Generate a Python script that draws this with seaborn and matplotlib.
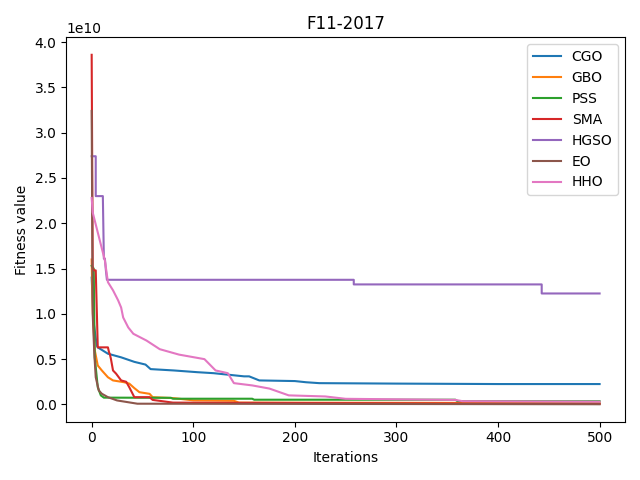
import numpy as np
import pandas as pd
import matplotlib
matplotlib.use("Agg")
import matplotlib.pyplot as plt
import seaborn as sns

# Convergence curves (values in units of 1e10)
cgo_it = [0, 2, 5, 6, 16, 29, 42, 53, 58, 81, 104, 120, 150, 155, 165, 200, 211, 224, 300, 400, 500]
cgo_val = [1.40, 0.90, 0.65, 0.63, 0.56, 0.52, 0.47, 0.44, 0.39, 0.375, 0.356, 0.345, 0.31, 0.31,
           0.265, 0.258, 0.245, 0.235, 0.23, 0.225, 0.225]

gbo_it = [0, 1, 3, 6, 10, 16, 21, 32, 37, 42, 47, 57, 60, 80, 100, 140, 145, 500]
gbo_val = [1.60, 1.05, 0.60, 0.43, 0.375, 0.30, 0.265, 0.245, 0.23, 0.18, 0.135, 0.117, 0.08,
           0.07, 0.045, 0.04, 0.02, 0.015]

pss_it = [0, 2, 3, 6, 9, 12, 78, 80, 158, 160, 358, 360, 500]
pss_val = [1.53, 1.50, 0.52, 0.19, 0.10, 0.075, 0.073, 0.063, 0.063, 0.052, 0.052, 0.037, 0.035]

sma_it = [0, 1, 2, 4, 6, 16, 17, 18, 19, 21, 24, 29, 34, 37, 42, 57, 60, 80, 500]
sma_val = [3.86, 1.51, 1.48, 1.48, 0.63, 0.63, 0.58, 0.55, 0.50, 0.375, 0.34, 0.265, 0.25, 0.19,
           0.08, 0.08, 0.05, 0.02, 0.005]

hgso_it = [0, 4, 4, 11, 12, 13, 14, 15, 258, 258, 443, 443, 500]
hgso_val = [2.74, 2.74, 2.30, 2.30, 1.61, 1.61, 1.48, 1.376, 1.376, 1.325, 1.325, 1.225, 1.225]

eo_it = [0, 1, 2.6, 4, 7, 10, 16, 25, 45, 500]
eo_val = [3.24, 1.00, 0.56, 0.30, 0.154, 0.118, 0.08, 0.044, 0.008, 0.002]

hho_it = [0, 1, 8, 13, 16, 21, 26, 29, 31, 36, 41, 54, 67, 86, 111, 122, 134, 140, 158, 175,
          194, 230, 250, 358, 365, 500]
hho_val = [2.28, 2.12, 1.81, 1.59, 1.35, 1.26, 1.15, 1.07, 0.96, 0.85, 0.78, 0.705, 0.61, 0.55,
           0.50, 0.375, 0.345, 0.235, 0.21, 0.175, 0.10, 0.088, 0.062, 0.05, 0.036, 0.03]

series = [
    ("CGO", cgo_it, cgo_val),
    ("GBO", gbo_it, gbo_val),
    ("PSS", pss_it, pss_val),
    ("SMA", sma_it, sma_val),
    ("HGSO", hgso_it, hgso_val),
    ("EO", eo_it, eo_val),
    ("HHO", hho_it, hho_val),
]

colors = sns.color_palette("tab10")

fig, ax = plt.subplots(figsize=(6.4, 4.8), dpi=100)
for i, (name, its, vals) in enumerate(series):
    df = pd.DataFrame({"Iterations": its, "Fitness": np.array(vals) * 1e10})
    sns.lineplot(data=df, x="Iterations", y="Fitness", ax=ax, color=colors[i],
                 label=name, estimator=None, sort=False, linewidth=1.5)

ax.set_title("F11-2017")
ax.set_xlabel("Iterations")
ax.set_ylabel("Fitness value")
ax.legend(loc="upper right")
plt.tight_layout()
plt.savefig("out.png")
